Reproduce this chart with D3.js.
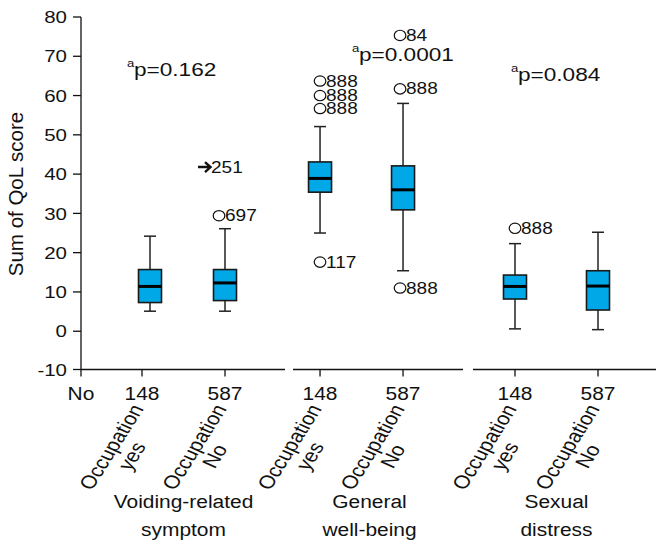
<!DOCTYPE html>
<meta charset="utf-8">
<title>Sum of QoL score by occupation</title>
<style>

body {
  margin: 0;
  background-color: white;
}

text {
  font-family: "Liberation Sans", Arial, sans-serif;
  fill: #111;
}

.axis line {
  stroke: #111;
  stroke-width: 1.3px;
}

.box {
  fill: #00a8e8;
  stroke: #1a1a1a;
  stroke-width: 1.6px;
}

.whisker {
  stroke: #222;
  stroke-width: 1.5px;
}

</style>
<body>
<script src="https://cdn.jsdelivr.net/npm/d3@7"></script>
<script>

// data
var domains = ["Voiding-related|symptom", "General|well-being", "Sexual|distress"];
var categories = ["Occupation|yes", "Occupation|No", "Occupation|yes", "Occupation|No", "Occupation|yes", "Occupation|No"];
var counts = ["148", "587", "148", "587", "148", "587"];
var lowWhisker = [5.1, 5.1, 25.0, 15.4, 0.6, 0.4];
var q1 = [7.3, 7.8, 35.4, 30.9, 8.2, 5.4];
var medians = [11.4, 12.3, 38.9, 36.0, 11.4, 11.5];
var q3 = [15.7, 15.7, 43.1, 42.1, 14.3, 15.4];
var highWhisker = [24.2, 26.1, 52.1, 58.0, 22.3, 25.2];
var outlierBox = [1, 1, 2, 2, 2, 2, 3, 3, 3, 4];
var outlierValue = [41.8, 29.4, 63.7, 60.0, 56.7, 17.6, 75.3, 61.7, 11.0, 26.2];
var outlierLabel = ["251", "697", "888", "888", "888", "117", "84", "888", "888", "888"];
var outlierExtreme = [true, false, false, false, false, false, false, false, false, false];
var pValues = ["p=0.162", "p=0.0001", "p=0.084"];
var yTicks = [-10, 0, 10, 20, 30, 40, 50, 60, 70, 80];

// layout
var width = 657,
    height = 548,
    sx = 1.19,             // horizontal stretch of the lettering
    slots = [0, 1, 2.145, 3.145, 4.494, 5.494],
    boxShift = [8, 0, 0, 0, 0, 0],
    outlierShift = [0, -6, 0, -3, 0, 0],
    segments = [[81, 285], [293, 463], [473, 656]],
    domainShift = [0, 8, 0],
    pX = [134, 359, 518],
    pY = [65.1, 68.9, 63.6],
    baseY = 369.5,
    boxW = 23,
    capW = 12;

var x = d3.scaleLinear().domain([0, 5.494]).range([142, 598]);
var y = d3.scaleLinear().domain([-10, 80]).range([370.5, 17]);

var svg = d3.select("body").append("svg")
    .attr("width", width)
    .attr("height", height);

function label(g, px, py, str, size, anchor) {
  return g.append("text")
      .attr("transform", "translate(" + px + "," + py + ")scale(" + sx + ",1)")
      .attr("text-anchor", anchor || "start")
      .style("font-size", size + "px")
      .text(str);
}

// y axis
var yAxis = svg.append("g").attr("class", "axis");
yAxis.append("line")
    .attr("x1", 81).attr("x2", 81)
    .attr("y1", y(80)).attr("y2", baseY + 7);
yTicks.forEach(function(t) {
  var ty = t === -10 ? baseY : y(t);
  yAxis.append("line")
      .attr("x1", 73).attr("x2", 81)
      .attr("y1", ty).attr("y2", ty);
  label(yAxis, 67, ty + 6.2, t, 17.2, "end");
});

svg.append("text")
    .attr("transform", "translate(23,194)rotate(-90)")
    .attr("text-anchor", "middle")
    .style("font-size", "20.5px")
    .text("Sum of QoL score");

// x axis segments and ticks
var xAxis = svg.append("g").attr("class", "axis");
segments.forEach(function(s) {
  xAxis.append("line")
      .attr("x1", s[0]).attr("x2", s[1])
      .attr("y1", baseY).attr("y2", baseY);
});
label(xAxis, 81, 399.5, "No", 17.6, "middle");
counts.forEach(function(c, i) {
  var cx = x(slots[i]);
  xAxis.append("line")
      .attr("x1", cx).attr("x2", cx)
      .attr("y1", baseY).attr("y2", baseY + 7);
  label(xAxis, cx, 399.5, c, 17.6, "middle");

  var parts = categories[i].split("|");
  var g = svg.append("g")
      .attr("transform", "translate(" + (cx - 24) + ",450)scale(" + sx + ",1)rotate(-62)");
  g.append("text")
      .attr("text-anchor", "middle")
      .style("font-size", "18.5px")
      .text(parts[0]);
  g.append("text")
      .attr("text-anchor", "middle")
      .attr("y", 19.5)
      .style("font-size", "18.5px")
      .text(parts[1]);
});

domains.forEach(function(d, i) {
  var parts = d.split("|");
  var cx = (x(slots[2 * i]) + x(slots[2 * i + 1])) / 2 + domainShift[i];
  label(svg, cx, 508, parts[0], 17.6, "middle");
  label(svg, cx, 536, parts[1], 17.6, "middle");
});

// boxes
var boxes = svg.selectAll(".boxplot")
    .data(d3.range(medians.length))
  .enter().append("g")
    .attr("class", "boxplot")
    .attr("transform", function(i) { return "translate(" + (x(slots[i]) + boxShift[i]) + ",0)"; });

boxes.append("line")
    .attr("class", "whisker")
    .attr("y1", function(i) { return y(highWhisker[i]); })
    .attr("y2", function(i) { return y(lowWhisker[i]); });

boxes.selectAll(".cap")
    .data(function(i) { return [highWhisker[i], lowWhisker[i]]; })
  .enter().append("line")
    .attr("class", "whisker")
    .attr("x1", -capW / 2).attr("x2", capW / 2)
    .attr("y1", y).attr("y2", y);

boxes.append("rect")
    .attr("class", "box")
    .attr("x", -boxW / 2)
    .attr("width", boxW)
    .attr("y", function(i) { return y(q3[i]); })
    .attr("height", function(i) { return y(q1[i]) - y(q3[i]); });

boxes.append("line")
    .attr("x1", -boxW / 2).attr("x2", boxW / 2)
    .attr("y1", function(i) { return y(medians[i]); })
    .attr("y2", function(i) { return y(medians[i]); })
    .style("stroke", "#000")
    .style("stroke-width", "3px");

// outliers
outlierValue.forEach(function(v, k) {
  var b = outlierBox[k],
      cx = x(slots[b]) + boxShift[b] + outlierShift[b],
      cy = y(v);
  if (outlierExtreme[k]) {
    svg.append("path")
        .attr("d", "M" + (cx - 21) + "," + cy + "h12M" + (cx - 14) + "," + (cy - 5) +
            "l5.5,5l-5.5,5")
        .style("fill", "none")
        .style("stroke", "#111")
        .style("stroke-width", "2.4px");
    label(svg, cx - 8, cy + 6, outlierLabel[k], 16, "start");
  } else {
    svg.append("ellipse")
        .attr("cx", cx).attr("cy", cy)
        .attr("rx", 5.8).attr("ry", 5.2)
        .style("fill", "none")
        .style("stroke", "#111")
        .style("stroke-width", "1.2px");
    label(svg, cx + 6, cy + 5.6, outlierLabel[k], 16, "start");
  }
});

// p values
pValues.forEach(function(p, i) {
  label(svg, pX[i] - 7, y(pY[i]) - 9, "a", 11, "start");
  label(svg, pX[i], y(pY[i]), p, 19, "start");
});

</script>
